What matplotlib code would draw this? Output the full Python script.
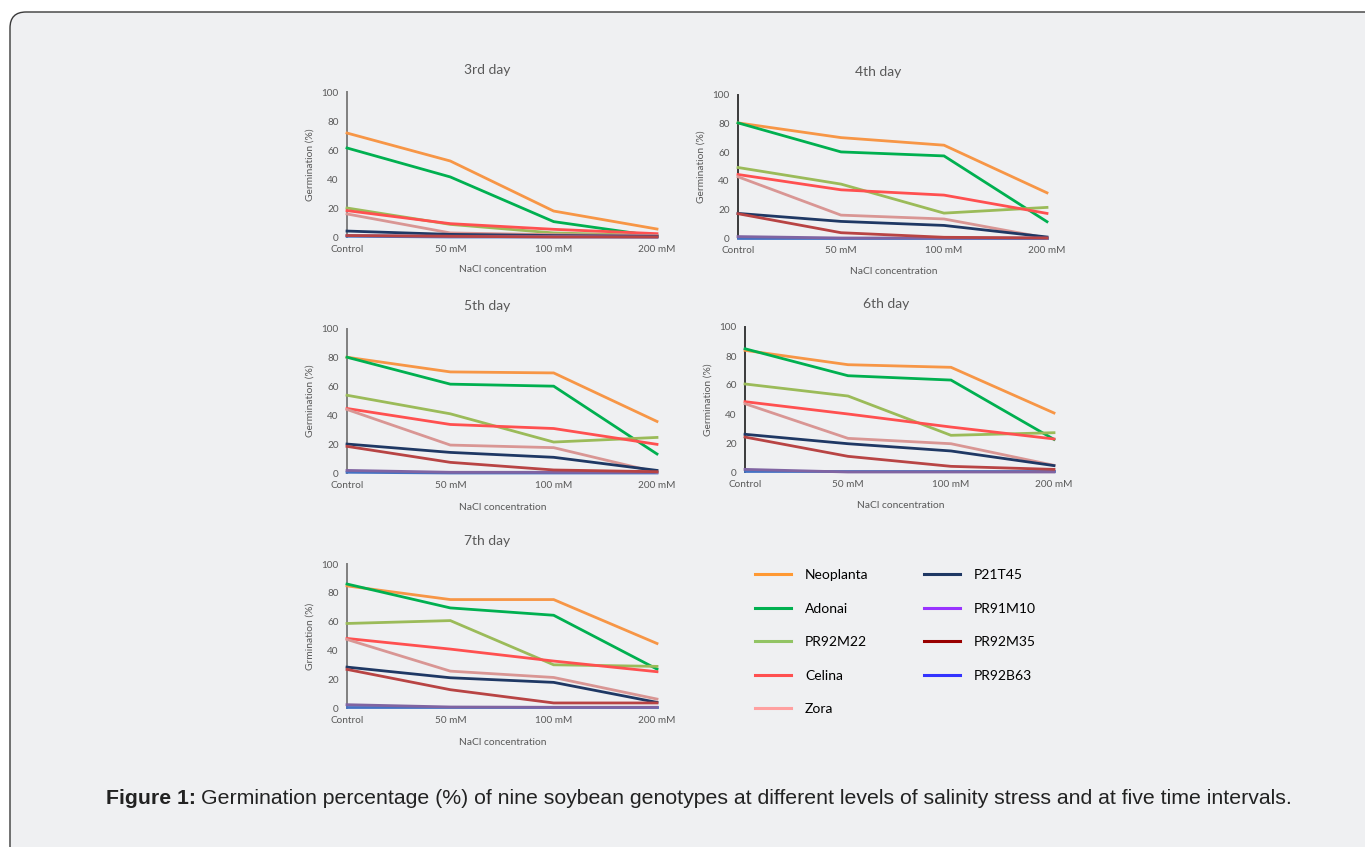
import matplotlib
matplotlib.use("Agg")
import matplotlib.pyplot as plt
import matplotlib.transforms as mtransforms
from matplotlib.patches import FancyBboxPatch
from matplotlib.lines import Line2D

# dados
CATEGORIES = ["Control", "50 mM", "100 mM", "200 mM"]
GENOTYPES = ["Neoplanta", "Adonai", "PR92M22", "Celina", "Zora",
             "P21T45", "PR91M10", "PR92M35", "PR92B63"]

DAY3 = [[71.7, 52.4, 17.9, 5.5],
        [61.4, 41.4, 10.6, 0.5],
        [20.0, 8.7, 2.8, 1.0],
        [18.2, 9.2, 5.3, 2.3],
        [15.9, 2.8, 1.6, 1.0],
        [4.1, 1.8, 1.0, 0.5],
        [1.0, 0.5, 0.5, 0.0],
        [1.0, 0.5, 0.0, 0.0],
        [0.5, 0.0, 0.0, 0.0]]
DAY4 = [[80.5, 70.2, 64.9, 31.6],
        [80.5, 60.2, 57.4, 11.4],
        [49.3, 37.7, 17.4, 21.4],
        [44.4, 33.7, 30.0, 17.2],
        [42.8, 16.0, 13.3, 0.0],
        [17.2, 11.6, 8.8, 0.7],
        [1.0, 0.0, 0.0, 0.0],
        [17.0, 3.7, 0.5, 0.0],
        [0.0, 0.0, 0.0, 0.0]]
DAY5 = [[80.4, 70.2, 69.5, 35.8],
        [80.4, 61.7, 60.3, 13.2],
        [54.0, 41.1, 21.5, 24.7],
        [44.8, 33.7, 30.9, 19.9],
        [44.1, 19.4, 17.6, 0.5],
        [20.1, 14.3, 10.9, 1.8],
        [1.8, 0.5, 0.5, 0.5],
        [18.5, 7.4, 2.1, 0.9],
        [0.5, 0.0, 0.0, 0.0]]
DAY6 = [[83.9, 74.0, 72.2, 40.7],
        [85.0, 66.4, 63.4, 22.5],
        [60.7, 52.4, 25.3, 27.1],
        [48.5, 40.0, 31.0, 22.8],
        [47.1, 23.2, 19.5, 4.6],
        [26.0, 19.5, 14.5, 4.4],
        [1.8, 0.0, 0.0, 0.0],
        [24.1, 10.8, 3.9, 1.8],
        [0.5, 0.5, 0.5, 0.5]]
DAY7 = [[84.8, 75.3, 75.3, 44.8],
        [86.1, 69.5, 64.4, 27.0],
        [58.7, 60.7, 30.0, 28.9],
        [48.3, 40.9, 32.6, 25.2],
        [47.6, 25.6, 21.2, 6.2],
        [28.4, 21.0, 17.8, 3.9],
        [2.3, 0.7, 0.5, 0.5],
        [26.8, 12.7, 3.5, 3.5],
        [0.5, 0.5, 0.5, 0.5]]

LINE_COLORS = ["#f79646", "#00b050", "#9bbb59", "#ff5050", "#d99694",
               "#1f3864", "#8064a2", "#b84444", "#4472c4"]
LEGEND_COLORS = ["#ff9933", "#00b050", "#92c464", "#ff5050", "#ffa0a0",
                 "#1f3864", "#9933ff", "#990000", "#3333ff"]
# ordem de desenho (a azul fica por baixo)
ZORDERS = [9, 8, 7, 6, 5, 4, 3, 2, 1]

W, H = 1365, 847
GREY = "#595959"
FONT = "Lato"

fig = plt.figure(figsize=(W / 100, H / 100), dpi=100)
fig.patch.set_facecolor("white")

# moldura arredondada
box = FancyBboxPatch((10, H - 862), 1370, 850,
                     boxstyle="round,pad=0,rounding_size=16",
                     transform=mtransforms.IdentityTransform(),
                     facecolor="#eff0f2", edgecolor="#3a3a3a", linewidth=1.0,
                     zorder=-10)
fig.patches.append(box)


def px(x, y):
    return x / W, 1 - y / H


# (dados, titulo, ylabel, esquerda, direita, topo(100), base(0), titulo xy, xlabel y, eixo cor)
PANELS = [
    (DAY3, "3rd day", "Germination (%)", 347, 657, 92, 237, (487, 70), 270, "#7f7f7f"),
    (DAY4, "4th day", "Germination (%)", 738, 1047, 95, 238, (878, 72), 271, "#3a3a3a"),
    (DAY5, "5th day", "Germination (%)", 347, 657, 329, 473, (487, 306), 507, "#7f7f7f"),
    (DAY6, "6th day", "Germination (%)", 745, 1054, 327, 472, (886, 304), 505, "#3a3a3a"),
    (DAY7, "7th day", "Grmination (%)", 347, 657, 564, 708, (487, 541), 742, "#7f7f7f"),
]

for data, title, ylab, l, r, t, b, txy, xly, axc in PANELS:
    x0, y0 = px(l, b)
    ax = fig.add_axes([x0, y0, (r - l) / W, (b - t) / H])
    ax.patch.set_visible(False)
    for vals, c, z in zip(data, LINE_COLORS, ZORDERS[::-1]):
        ax.plot(range(len(CATEGORIES)), vals, color=c, lw=2.0, clip_on=False,
                solid_joinstyle="miter", zorder=z if c != "#4472c4" else 0.5)
    ax.set_xlim(0, 3)
    ax.set_ylim(0, 100)
    ax.set_yticks(range(0, 101, 20))
    ax.set_xticks(range(len(CATEGORIES)))
    ax.set_xticklabels(CATEGORIES)
    ax.tick_params(length=0, labelsize=7.2, labelcolor=GREY, pad=6)
    for lab in ax.get_xticklabels() + ax.get_yticklabels():
        lab.set_fontfamily(FONT)
    for s in ["top", "right", "bottom"]:
        ax.spines[s].set_visible(False)
    ax.spines["left"].set_color(axc)
    ax.spines["left"].set_linewidth(1.4)
    ax.spines["left"].set_zorder(0)
    fig.text(*px(*txy), title, ha="center", va="center", fontsize=10,
             color=GREY, family=FONT)
    fig.text(*px((l + r) / 2 + 1, xly), "NaCl concentration", ha="center",
             va="center", fontsize=7.4, color=GREY, family=FONT)
    fig.text(*px(l - 37, (t + b) / 2), ylab, ha="center", va="center",
             rotation=90, fontsize=7.4, color=GREY, family=FONT)

# legenda
handles = [Line2D([], [], color=c, lw=2.2) for c in LEGEND_COLORS]
fig.legend(handles, GENOTYPES, loc="upper left", bbox_to_anchor=px(755, 569),
           ncol=2, frameon=False, borderpad=0, borderaxespad=0,
           handlelength=2.6, handletextpad=1.0, columnspacing=4.0,
           labelspacing=1.55, prop={"family": FONT, "size": 10})

# legenda da figura
cap_y = 798
t1 = fig.text(*px(106, cap_y), "Figure 1:", ha="left", va="center",
              fontsize=15.3, fontweight="bold", color="#222222",
              family="Liberation Sans")
fig.canvas.draw()
ext = t1.get_window_extent(renderer=fig.canvas.get_renderer())
fig.text(ext.x1 / W + 5 / W, 1 - cap_y / H,
         "Germination percentage (%) of nine soybean genotypes at different "
         "levels of salinity stress and at five time intervals.",
         ha="left", va="center", fontsize=15.3, color="#222222",
         family="Liberation Sans")

fig.savefig("out.png", dpi=100, facecolor=fig.get_facecolor())
